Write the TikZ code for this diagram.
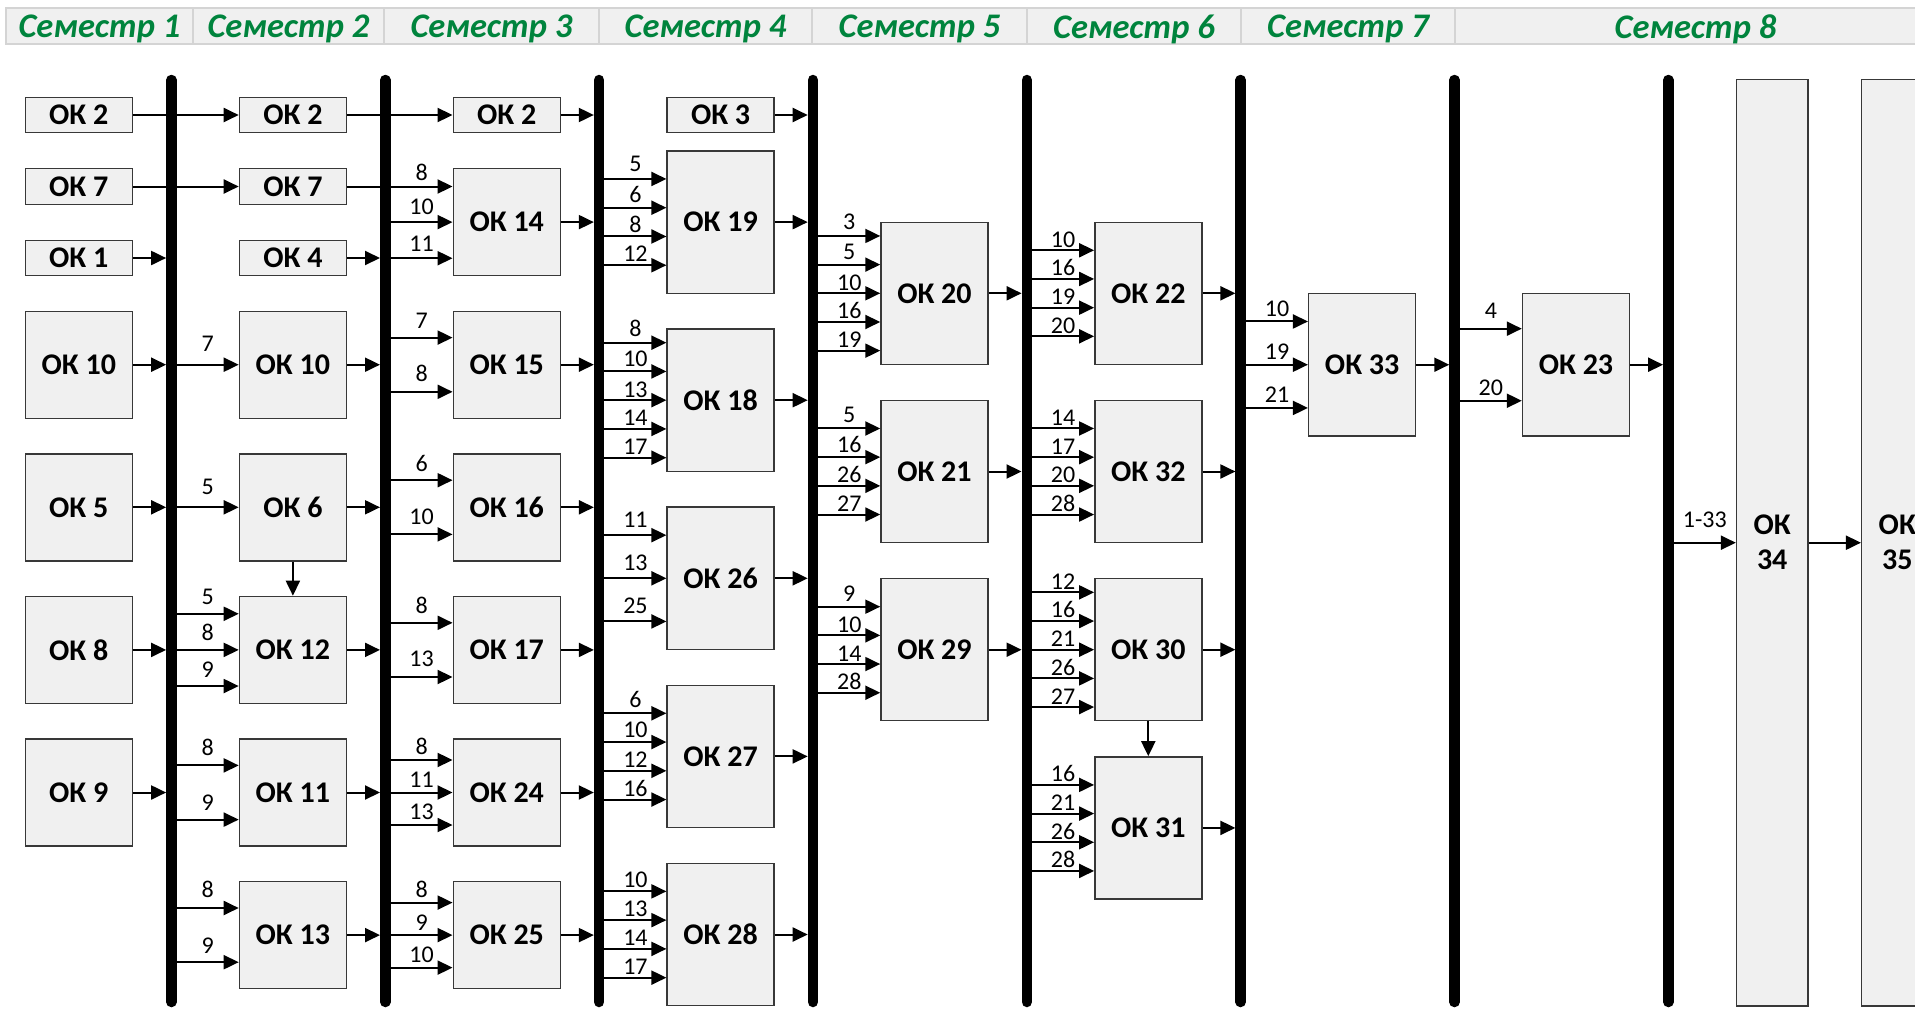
\documentclass[tikz,border=0pt]{standalone}
\usepackage{fontspec}
\setmainfont{Carlito}
\usetikzlibrary{arrows.meta,calc}
\definecolor{hgreen}{RGB}{0,132,61}
\definecolor{boxfill}{RGB}{240,240,240}
\definecolor{hdrfill}{RGB}{240,240,240}
\definecolor{hdrline}{RGB}{212,212,212}
\newcommand\okbox[6]{\node[box,minimum width=#4pt,minimum height=#5pt] (#1) at (#2,#3) {#6};}
\newcommand\okin[5][3]{%
  \coordinate (okt) at ($(#3.north west)!#4!(#3.south west)$);
  \draw[arr] (#2 |- okt) -- node[lbl,pos=.54,yshift=#1pt]{#5} (okt);}
\newcommand\okout[2]{\draw[arr,shorten >=5.25pt] (#1.east) -- (#1.east -| #2);}
\begin{document}
\begin{tikzpicture}[x=1pt,y=-1pt,
  box/.style={draw=black!78, line width=1.4pt, fill=boxfill, inner sep=0pt, font=\fontsize{30}{35}\selectfont\bfseries, align=center},
  arr/.style={line width=2pt, -{Triangle[length=15pt,width=14pt]}},
  lbl/.style={font=\fontsize{24}{26}\selectfont, inner sep=0pt, anchor=south},
  barst/.style={line width=10.5pt, line cap=round},
  hcell/.style={draw=hdrline, line width=2pt, fill=hdrfill},
  htext/.style={text=hgreen, font=\fontsize{34.5}{36}\selectfont\bfseries\itshape, inner sep=0pt}]
\useasboundingbox (0,0) rectangle (1915,1010);
\clip (0,0) rectangle (1915,1010);
% header
\foreach \xa/\xb/\t [count=\i] in {6/193/Семестр 1,193/384/Семестр 2,384/599/Семестр 3,599/812/Семестр 4,812/1027/Семестр 5,1027/1241/Семестр 6,1241/1455/Семестр 7,1455/1936/Семестр 8}{
  \draw[hcell] (\xa,8.3) rectangle (\xb,44.3);
  \node[htext] (h\i) at ({(\xa+\xb)/2},29) {\t};
}
% bars
\foreach \k in {1,...,8}{
  \coordinate (B\k) at ({171.4+213.85*(\k-1)},80);
  \coordinate (E\k) at ({171.4+213.85*(\k-1)},1002);
  \draw[barst] (B\k) -- (E\k);
}
% column 1
\okbox{a2}{78.8}{115}{107}{35.5}{ОК 2}
\okbox{a7}{78.8}{186.5}{107}{35.5}{ОК 7}
\okbox{a1}{78.8}{258}{107}{35.5}{ОК 1}
\okbox{a10}{78.8}{364.7}{107}{107}{ОК 10}
\okbox{a5}{78.8}{507.3}{107}{107}{ОК 5}
\okbox{a8}{78.8}{649.9}{107}{107}{ОК 8}
\okbox{a9}{78.8}{792.5}{107}{107}{ОК 9}
% column 2
\okbox{b2}{292.9}{115}{107}{35.5}{ОК 2}
\okbox{b7}{292.9}{186.5}{107}{35.5}{ОК 7}
\okbox{b4}{292.9}{258}{107}{35.5}{ОК 4}
\okbox{b10}{292.9}{364.7}{107}{107}{ОК 10}
\okbox{b6}{292.9}{507.3}{107}{107}{ОК 6}
\okbox{b12}{292.9}{649.9}{107}{107}{ОК 12}
\okbox{b11}{292.9}{792.5}{107}{107}{ОК 11}
\okbox{b13}{292.9}{935.1}{107}{107}{ОК 13}
% column 3
\okbox{c2}{506.75}{115}{107}{35.5}{ОК 2}
\okbox{c14}{506.75}{222.1}{107}{107}{ОК 14}
\okbox{c15}{506.75}{364.7}{107}{107}{ОК 15}
\okbox{c16}{506.75}{507.3}{107}{107}{ОК 16}
\okbox{c17}{506.75}{649.9}{107}{107}{ОК 17}
\okbox{c24}{506.75}{792.5}{107}{107}{ОК 24}
\okbox{c25}{506.75}{935.1}{107}{107}{ОК 25}
% column 4
\okbox{d3}{720.6}{115}{107}{35.5}{ОК 3}
\okbox{d19}{720.6}{222.1}{107}{142.4}{ОК 19}
\okbox{d18}{720.6}{400.2}{107}{142.4}{ОК 18}
\okbox{d26}{720.6}{578.3}{107}{142.4}{ОК 26}
\okbox{d27}{720.6}{756.4}{107}{142.4}{ОК 27}
\okbox{d28}{720.6}{934.5}{107}{142.4}{ОК 28}
% column 5
\okbox{e20}{934.45}{293.3}{107}{142}{ОК 20}
\okbox{e21}{934.45}{471.5}{107}{142}{ОК 21}
\okbox{e29}{934.45}{649.7}{107}{142}{ОК 29}
% column 6
\okbox{f22}{1148.3}{293.3}{107}{142}{ОК 22}
\okbox{f32}{1148.3}{471.5}{107}{142}{ОК 32}
\okbox{f30}{1148.3}{649.7}{107}{142}{ОК 30}
\okbox{f31}{1148.3}{827.9}{107}{142}{ОК 31}
% columns 7, 8
\okbox{g33}{1362.15}{364.7}{107}{142.7}{ОК 33}
\okbox{h23}{1576}{364.7}{107}{142.7}{ОК 23}
\okbox{k34}{1772.2}{542.7}{71.3}{926.7}{ОК\\34}
\okbox{k35}{1897.3}{542.7}{71.3}{926.7}{ОК\\35}
% semester 1 -> 2
\draw[arr] (a2.east) -- (b2.west);
\draw[arr] (a7.east) -- (b7.west);
\okout{a1}{B1}
\okout{a10}{B1}
\okout{a5}{B1}
\okout{a8}{B1}
\okout{a9}{B1}
\okin[12]{B1}{b10}{0.5}{7}
\okin[12]{B1}{b6}{0.5}{5}
\draw[arr] (b6.south) -- (b12.north);
\okin[8]{B1}{b12}{0.1667}{5}
\okin[8]{B1}{b12}{0.5}{8}
\okin[8]{B1}{b12}{0.8333}{9}
\okin[9]{B1}{b11}{0.25}{8}
\okin[8]{B1}{b11}{0.75}{9}
\okin[9]{B1}{b13}{0.25}{8}
\okin[8]{B1}{b13}{0.75}{9}
% semester 2 -> 3
\draw[arr] (b2.east) -- (c2.west);
\draw[arr] (b7.east) -- (b7.east -| c14.west);
\path (B2 |- b7.east) -- node[lbl,pos=.54,yshift=6pt]{8} (b7.east -| c14.west);
\okout{b4}{B2}
\okout{b10}{B2}
\okout{b6}{B2}
\okout{b12}{B2}
\okout{b11}{B2}
\okout{b13}{B2}
\okin[6]{B2}{c14}{0.5}{10}
\okin[6]{B2}{c14}{0.8333}{11}
\okin[8]{B2}{c15}{0.25}{7}
\okin[9]{B2}{c15}{0.75}{8}
\okin[8]{B2}{c16}{0.25}{6}
\okin[9]{B2}{c16}{0.75}{10}
\okin[8]{B2}{c17}{0.25}{8}
\okin[9]{B2}{c17}{0.75}{13}
\okin[4]{B2}{c24}{0.2}{8}
\okin[4]{B2}{c24}{0.5}{11}
\okin[4]{B2}{c24}{0.8}{13}
\okin[4]{B2}{c25}{0.2}{8}
\okin[4]{B2}{c25}{0.5}{9}
\okin[4]{B2}{c25}{0.8}{10}
% semester 3 -> 4
\okout{c2}{B3}
\okout{c14}{B3}
\okout{c15}{B3}
\okout{c16}{B3}
\okout{c17}{B3}
\okout{c24}{B3}
\okout{c25}{B3}
\okin[6]{B3}{d19}{0.2}{5}
\okin[4]{B3}{d19}{0.4}{6}
\okin[3]{B3}{d19}{0.6}{8}
\okin[3]{B3}{d19}{0.8}{12}
\okin[5]{B3}{d18}{0.1}{8}
\okin[4]{B3}{d18}{0.3}{10}
\okin[2]{B3}{d18}{0.5}{13}
\okin[2]{B3}{d18}{0.7}{14}
\okin[2]{B3}{d18}{0.9}{17}
\okin[7]{B3}{d26}{0.2}{11}
\okin[7]{B3}{d26}{0.5}{13}
\okin[7]{B3}{d26}{0.8}{25}
\okin[5]{B3}{d27}{0.2}{6}
\okin[3]{B3}{d27}{0.4}{10}
\okin[2]{B3}{d27}{0.6}{12}
\okin[2]{B3}{d27}{0.8}{16}
\okin[3]{B3}{d28}{0.2}{10}
\okin[2]{B3}{d28}{0.4}{13}
\okin[2]{B3}{d28}{0.6}{14}
\okin[2]{B3}{d28}{0.8}{17}
% semester 4 -> 5
\okout{d3}{B4}
\okout{d19}{B4}
\okout{d18}{B4}
\okout{d26}{B4}
\okout{d27}{B4}
\okout{d28}{B4}
\okin[5]{B4}{e20}{0.1}{3}
\okin[4]{B4}{e20}{0.3}{5}
\okin[2]{B4}{e20}{0.5}{10}
\okin[2]{B4}{e20}{0.7}{16}
\okin[2]{B4}{e20}{0.9}{19}
\okin[5]{B4}{e21}{0.2}{5}
\okin[3]{B4}{e21}{0.4}{16}
\okin[2]{B4}{e21}{0.6}{26}
\okin[2]{B4}{e21}{0.8}{27}
\okin[4]{B4}{e29}{0.2}{9}
\okin[2]{B4}{e29}{0.4}{10}
\okin[2]{B4}{e29}{0.6}{14}
\okin[2]{B4}{e29}{0.8}{28}
% semester 5 -> 6
\okout{e20}{B5}
\okout{e21}{B5}
\okout{e29}{B5}
\okin[2]{B5}{f22}{0.2}{10}
\okin[2]{B5}{f22}{0.4}{16}
\okin[2]{B5}{f22}{0.6}{19}
\okin[2]{B5}{f22}{0.8}{20}
\okin[2]{B5}{f32}{0.2}{14}
\okin[2]{B5}{f32}{0.4}{17}
\okin[2]{B5}{f32}{0.6}{20}
\okin[2]{B5}{f32}{0.8}{28}
\okin[2]{B5}{f30}{0.1}{12}
\okin[2]{B5}{f30}{0.3}{16}
\okin[2]{B5}{f30}{0.5}{21}
\okin[2]{B5}{f30}{0.7}{26}
\okin[2]{B5}{f30}{0.9}{27}
\draw[arr] (f30.south) -- (f31.north);
\okin[2]{B5}{f31}{0.2}{16}
\okin[2]{B5}{f31}{0.4}{21}
\okin[2]{B5}{f31}{0.6}{26}
\okin[2]{B5}{f31}{0.8}{28}
% semester 6 -> 7
\okout{f22}{B6}
\okout{f32}{B6}
\okout{f30}{B6}
\okout{f31}{B6}
\okin[4]{B6}{g33}{0.2}{10}
\okin[4]{B6}{g33}{0.5}{19}
\okin[4]{B6}{g33}{0.8}{21}
% semester 7 -> 8
\okout{g33}{B7}
\okin[9]{B7}{h23}{0.25}{4}
\okin[4]{B7}{h23}{0.75}{20}
\okout{h23}{B8}
\okin[14]{B8}{k34}{0.5}{1-33}
\draw[arr] (k34.east) -- (k35.west);
\end{tikzpicture}
\end{document}
